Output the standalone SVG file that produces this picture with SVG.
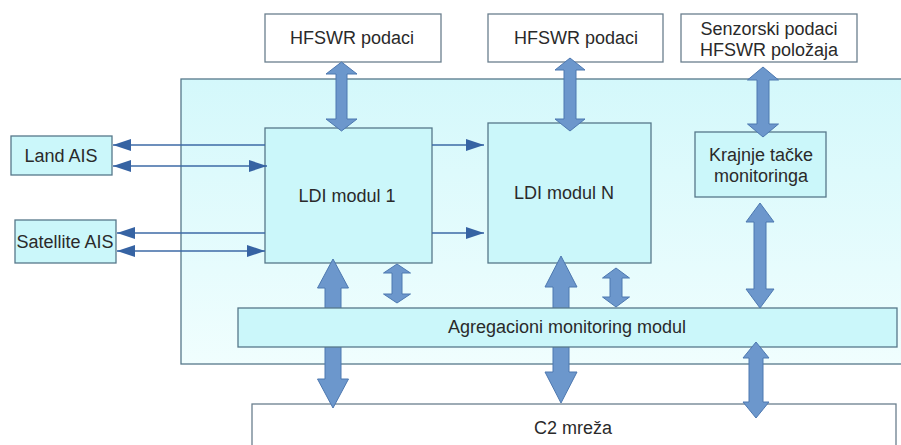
<svg xmlns="http://www.w3.org/2000/svg" width="901" height="445" viewBox="0 0 901 445">
<defs>
<linearGradient id="bg" x1="0" y1="0" x2="0" y2="1">
<stop offset="0" stop-color="#d4f8fb"/>
<stop offset="1" stop-color="#f0fefe"/>
</linearGradient>
<marker id="ah" markerUnits="userSpaceOnUse" markerWidth="20" markerHeight="14" refX="18" refY="6" orient="auto-start-reverse">
<path d="M0,0 L18,6 L0,12 Z" fill="#3663a3"/>
</marker>
</defs>
<style>
.box{fill:#cbf7fa;stroke:#56788a;stroke-width:1.3}
.wbox{fill:#ffffff;stroke:#6a7f8e;stroke-width:1.3}
.t{font-family:"Liberation Sans",Arial,sans-serif;font-size:18px;fill:#2a2a2a;text-anchor:middle}
.fat{fill:#6c97cc;stroke:#4d78b0;stroke-width:1}
.thin{stroke:#3d6aa6;stroke-width:1.4;fill:none}
</style>
<rect x="181" y="79" width="730" height="285" fill="url(#bg)" stroke="#56788a" stroke-width="1.3"/>
<g id="hfswr1"><rect class="wbox" x="265" y="14" width="176" height="48"/><text class="t" x="352" y="44">HFSWR podaci</text></g>
<g id="hfswr2"><rect class="wbox" x="488" y="14" width="175" height="48"/><text class="t" x="576" y="44">HFSWR podaci</text></g>
<g id="senzorski"><rect class="wbox" x="681" y="14" width="176" height="48"/><text class="t" x="769" y="35">Senzorski podaci</text><text class="t" x="769" y="56">HFSWR položaja</text></g>
<g id="landais"><rect class="box" x="11" y="136" width="101" height="39"/><text class="t" x="61" y="162">Land AIS</text></g>
<g id="satais"><rect class="box" x="15" y="220" width="101" height="43"/><text class="t" x="65" y="248">Satellite AIS</text></g>
<g id="c2"><rect class="wbox" x="252" y="404" width="644" height="50"/><text class="t" x="573" y="434">C2 mreža</text></g>
<g id="ldi1"><rect class="box" x="265" y="128" width="167" height="135"/><text class="t" x="347" y="202">LDI modul 1</text></g>
<g id="ldin"><rect class="box" x="488" y="123" width="163" height="140"/><text class="t" x="564" y="199">LDI modul N</text></g>
<g id="krajnje"><rect class="box" x="695" y="132" width="131" height="65"/><text class="t" x="761" y="161">Krajnje tačke</text><text class="t" x="761" y="182">monitoringa</text></g>
<g id="connectors-back">
<path class="fat" d="M333,259 L348.5,288 L341,288 L341,379 L348.5,379 L333,408 L317.5,379 L325,379 L325,288 L317.5,288 Z"/>
<path class="fat" d="M561,256 L577,287 L569,287 L569,372 L577,372 L561,403 L545,372 L553,372 L553,287 L545,287 Z"/>
</g>
<g id="agregacioni"><rect class="box" x="238" y="308" width="659" height="39"/><text class="t" x="567" y="333">Agregacioni monitoring modul</text></g>
<g id="connectors">
<path class="fat" d="M341.5,62 L357,74 L347,74 L347,119 L357,119 L341.5,131 L326,119 L336,119 L336,74 L326,74 Z"/>
<path class="fat" d="M570,58 L585,70 L576,70 L576,119 L585,119 L570,131 L555,119 L564,119 L564,70 L555,70 Z"/>
<path class="fat" d="M763,67 L778.5,80 L769,80 L769,124 L778.5,124 L763,137 L747.5,124 L757,124 L757,80 L747.5,80 Z"/>
<path class="fat" d="M760,203 L774,222 L766,222 L766,289 L774,289 L760,308 L746,289 L754,289 L754,222 L746,222 Z"/>
<path class="fat" d="M397,264 L410.5,273 L402,273 L402,294 L410.5,294 L397,303 L383.5,294 L392,294 L392,273 L383.5,273 Z"/>
<path class="fat" d="M616,268 L629.5,278 L622,278 L622,297 L629.5,297 L616,307 L602.5,297 L610,297 L610,278 L602.5,278 Z"/>
<path class="fat" d="M756,342 L769,358 L763,358 L763,402 L769,402 L756,418 L743,402 L749,402 L749,358 L743,358 Z"/>
<line class="thin" x1="265" y1="145" x2="113" y2="145" marker-end="url(#ah)"/>
<line class="thin" x1="113" y1="166" x2="267" y2="166" marker-start="url(#ah)" marker-end="url(#ah)"/>
<line class="thin" x1="265" y1="233" x2="117" y2="233" marker-end="url(#ah)"/>
<line class="thin" x1="117" y1="251" x2="265" y2="251" marker-start="url(#ah)" marker-end="url(#ah)"/>
<line class="thin" x1="432" y1="145" x2="484" y2="145" marker-end="url(#ah)"/>
<line class="thin" x1="432" y1="233" x2="484" y2="233" marker-end="url(#ah)"/>
</g>
</svg>
